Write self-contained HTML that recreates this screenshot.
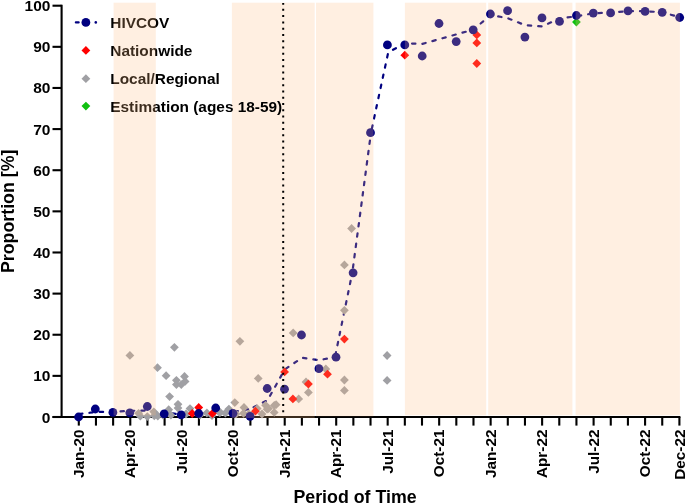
<!DOCTYPE html>
<html><head><meta charset="utf-8"><style>
html,body{margin:0;padding:0;background:#fff;width:685px;height:504px;overflow:hidden;}
svg{display:block;will-change:transform;}
</style></head><body>
<svg width="685" height="504" viewBox="0 0 685 504">
<g stroke="#000" stroke-width="2.1" fill="none">
<path d="M61.6 4.7V418"/>
<path d="M52.5 417H680.4"/>
<path d="M52.5 417.00H61.6"/>
<path d="M52.5 375.87H61.6"/>
<path d="M52.5 334.74H61.6"/>
<path d="M52.5 293.61H61.6"/>
<path d="M52.5 252.48H61.6"/>
<path d="M52.5 211.35H61.6"/>
<path d="M52.5 170.22H61.6"/>
<path d="M52.5 129.09H61.6"/>
<path d="M52.5 87.96H61.6"/>
<path d="M52.5 46.83H61.6"/>
<path d="M52.5 5.70H61.6"/>
<path d="M78.80 417V425.6"/>
<path d="M95.96 417V425.6"/>
<path d="M113.12 417V425.6"/>
<path d="M130.28 417V425.6"/>
<path d="M147.44 417V425.6"/>
<path d="M164.60 417V425.6"/>
<path d="M181.76 417V425.6"/>
<path d="M198.92 417V425.6"/>
<path d="M216.08 417V425.6"/>
<path d="M233.24 417V425.6"/>
<path d="M250.40 417V425.6"/>
<path d="M267.56 417V425.6"/>
<path d="M284.72 417V425.6"/>
<path d="M301.88 417V425.6"/>
<path d="M319.04 417V425.6"/>
<path d="M336.20 417V425.6"/>
<path d="M353.36 417V425.6"/>
<path d="M370.52 417V425.6"/>
<path d="M387.68 417V425.6"/>
<path d="M404.84 417V425.6"/>
<path d="M422.00 417V425.6"/>
<path d="M439.16 417V425.6"/>
<path d="M456.32 417V425.6"/>
<path d="M473.48 417V425.6"/>
<path d="M490.64 417V425.6"/>
<path d="M507.80 417V425.6"/>
<path d="M524.96 417V425.6"/>
<path d="M542.12 417V425.6"/>
<path d="M559.28 417V425.6"/>
<path d="M576.44 417V425.6"/>
<path d="M593.60 417V425.6"/>
<path d="M610.76 417V425.6"/>
<path d="M627.92 417V425.6"/>
<path d="M645.08 417V425.6"/>
<path d="M662.24 417V425.6"/>
<path d="M679.40 417V425.6"/>
</g>
<g font-family="'Liberation Sans', sans-serif" font-weight="bold" font-size="15.5" text-anchor="end" fill="#000">
<text x="50.4" y="422.50">0</text>
<text x="50.4" y="381.37">10</text>
<text x="50.4" y="340.24">20</text>
<text x="50.4" y="299.11">30</text>
<text x="50.4" y="257.98">40</text>
<text x="50.4" y="216.85">50</text>
<text x="50.4" y="175.72">60</text>
<text x="50.4" y="134.59">70</text>
<text x="50.4" y="93.46">80</text>
<text x="50.4" y="52.33">90</text>
<text x="50.4" y="11.20">100</text>
</g>
<g font-family="'Liberation Sans', sans-serif" font-weight="bold" font-size="15.3" text-anchor="end" fill="#000">
<text transform="translate(84.00 429.6) rotate(-90)">Jan-20</text>
<text transform="translate(135.48 429.6) rotate(-90)">Apr-20</text>
<text transform="translate(186.96 429.6) rotate(-90)">Jul-20</text>
<text transform="translate(238.44 429.6) rotate(-90)">Oct-20</text>
<text transform="translate(289.92 429.6) rotate(-90)">Jan-21</text>
<text transform="translate(341.40 429.6) rotate(-90)">Apr-21</text>
<text transform="translate(392.88 429.6) rotate(-90)">Jul-21</text>
<text transform="translate(444.36 429.6) rotate(-90)">Oct-21</text>
<text transform="translate(495.84 429.6) rotate(-90)">Jan-22</text>
<text transform="translate(547.32 429.6) rotate(-90)">Apr-22</text>
<text transform="translate(598.80 429.6) rotate(-90)">Jul-22</text>
<text transform="translate(650.28 429.6) rotate(-90)">Oct-22</text>
<text transform="translate(684.60 429.6) rotate(-90)">Dec-22</text>
</g>
<text font-family="'Liberation Sans', sans-serif" font-weight="bold" font-size="17.8" text-anchor="middle" transform="translate(13.6 211.3) rotate(-90)">Proportion [%]</text>
<text font-family="'Liberation Sans', sans-serif" font-weight="bold" font-size="17.8" text-anchor="middle" x="355" y="502.5">Period of Time</text>
<polyline points="78.80,414.20 95.96,411.90 113.12,411.90 130.28,410.80 147.44,410.50 164.60,412.60 181.76,414.50 198.92,413.50 216.08,412.00 233.24,411.80 250.40,408.90" fill="none" stroke="#000080" stroke-width="2.2" stroke-linecap="round" stroke-linejoin="round" stroke-dasharray="3.4 7" stroke-dashoffset="10.10"/>
<polyline points="250.40,408.90 267.56,400.20 284.72,369.50 301.88,357.80 319.04,360.20 335.00,357.00" fill="none" stroke="#000080" stroke-width="2.2" stroke-linecap="round" stroke-linejoin="round" stroke-dasharray="3.4 7" stroke-dashoffset="6.86"/>
<polyline points="335.00,357.00 352.30,272.70" fill="none" stroke="#000080" stroke-width="2.2" stroke-linecap="round" stroke-linejoin="round" stroke-dasharray="3.4 7" stroke-dashoffset="8.82"/>
<polyline points="352.30,272.70 371.00,132.50" fill="none" stroke="#000080" stroke-width="2.2" stroke-linecap="round" stroke-linejoin="round" stroke-dasharray="3.4 7" stroke-dashoffset="5.30"/>
<polyline points="371.00,132.50 388.20,52.50" fill="none" stroke="#000080" stroke-width="2.2" stroke-linecap="round" stroke-linejoin="round" stroke-dasharray="3.4 7" stroke-dashoffset="6.50"/>
<polyline points="388.20,52.50 404.84,43.20 422.00,44.00 439.16,39.20 456.32,34.40 473.48,29.60 490.64,15.00 507.80,18.20 524.96,25.20 542.12,26.40 559.28,18.50 576.44,16.30 593.60,13.30 610.76,12.40 627.92,11.20 645.08,11.20 662.24,12.30 679.40,17.20" fill="none" stroke="#000080" stroke-width="2.2" stroke-linecap="round" stroke-linejoin="round" stroke-dasharray="3.4 7" stroke-dashoffset="4.93"/>
<path d="M129.90 351.00L134.30 355.40L129.90 359.80L125.50 355.40Z" fill="#a0a0a4"/>
<path d="M157.50 363.30L161.90 367.70L157.50 372.10L153.10 367.70Z" fill="#a0a0a4"/>
<path d="M166.10 371.30L170.50 375.70L166.10 380.10L161.70 375.70Z" fill="#a0a0a4"/>
<path d="M174.40 342.90L178.80 347.30L174.40 351.70L170.00 347.30Z" fill="#a0a0a4"/>
<path d="M176.40 375.90L180.80 380.30L176.40 384.70L172.00 380.30Z" fill="#a0a0a4"/>
<path d="M184.50 372.10L188.90 376.50L184.50 380.90L180.10 376.50Z" fill="#a0a0a4"/>
<path d="M185.10 377.00L189.50 381.40L185.10 385.80L180.70 381.40Z" fill="#a0a0a4"/>
<path d="M176.40 380.20L180.80 384.60L176.40 389.00L172.00 384.60Z" fill="#a0a0a4"/>
<path d="M181.30 380.20L185.70 384.60L181.30 389.00L176.90 384.60Z" fill="#a0a0a4"/>
<path d="M169.60 392.20L174.00 396.60L169.60 401.00L165.20 396.60Z" fill="#a0a0a4"/>
<path d="M178.00 399.90L182.40 404.30L178.00 408.70L173.60 404.30Z" fill="#a0a0a4"/>
<path d="M178.00 403.70L182.40 408.10L178.00 412.50L173.60 408.10Z" fill="#a0a0a4"/>
<path d="M168.70 405.30L173.10 409.70L168.70 414.10L164.30 409.70Z" fill="#a0a0a4"/>
<path d="M170.90 410.80L175.30 415.20L170.90 419.60L166.50 415.20Z" fill="#a0a0a4"/>
<path d="M190.00 404.20L194.40 408.60L190.00 413.00L185.60 408.60Z" fill="#a0a0a4"/>
<path d="M206.90 408.60L211.30 413.00L206.90 417.40L202.50 413.00Z" fill="#a0a0a4"/>
<path d="M138.60 408.90L143.00 413.30L138.60 417.70L134.20 413.30Z" fill="#a0a0a4"/>
<path d="M140.30 411.80L144.70 416.20L140.30 420.60L135.90 416.20Z" fill="#a0a0a4"/>
<path d="M147.30 412.20L151.70 416.60L147.30 421.00L142.90 416.60Z" fill="#a0a0a4"/>
<path d="M153.80 407.40L158.20 411.80L153.80 416.20L149.40 411.80Z" fill="#a0a0a4"/>
<path d="M154.30 411.40L158.70 415.80L154.30 420.20L149.90 415.80Z" fill="#a0a0a4"/>
<path d="M157.80 411.60L162.20 416.00L157.80 420.40L153.40 416.00Z" fill="#a0a0a4"/>
<path d="M219.50 408.20L223.90 412.60L219.50 417.00L215.10 412.60Z" fill="#a0a0a4"/>
<path d="M225.40 408.80L229.80 413.20L225.40 417.60L221.00 413.20Z" fill="#a0a0a4"/>
<path d="M228.90 404.70L233.30 409.10L228.90 413.50L224.50 409.10Z" fill="#a0a0a4"/>
<path d="M220.30 408.00L224.70 412.40L220.30 416.80L215.90 412.40Z" fill="#a0a0a4"/>
<path d="M228.60 405.80L233.00 410.20L228.60 414.60L224.20 410.20Z" fill="#a0a0a4"/>
<path d="M234.80 398.20L239.20 402.60L234.80 407.00L230.40 402.60Z" fill="#a0a0a4"/>
<path d="M244.00 403.10L248.40 407.50L244.00 411.90L239.60 407.50Z" fill="#a0a0a4"/>
<path d="M243.50 408.90L247.90 413.30L243.50 417.70L239.10 413.30Z" fill="#a0a0a4"/>
<path d="M258.20 374.00L262.60 378.40L258.20 382.80L253.80 378.40Z" fill="#a0a0a4"/>
<path d="M239.90 336.90L244.30 341.30L239.90 345.70L235.50 341.30Z" fill="#a0a0a4"/>
<path d="M257.20 404.20L261.60 408.60L257.20 413.00L252.80 408.60Z" fill="#a0a0a4"/>
<path d="M265.60 400.90L270.00 405.30L265.60 409.70L261.20 405.30Z" fill="#a0a0a4"/>
<path d="M268.50 404.20L272.90 408.60L268.50 413.00L264.10 408.60Z" fill="#a0a0a4"/>
<path d="M274.30 401.00L278.70 405.40L274.30 409.80L269.90 405.40Z" fill="#a0a0a4"/>
<path d="M276.10 400.30L280.50 404.70L276.10 409.10L271.70 404.70Z" fill="#a0a0a4"/>
<path d="M267.10 404.80L271.50 409.20L267.10 413.60L262.70 409.20Z" fill="#a0a0a4"/>
<path d="M274.20 408.00L278.60 412.40L274.20 416.80L269.80 412.40Z" fill="#a0a0a4"/>
<path d="M293.20 328.50L297.60 332.90L293.20 337.30L288.80 332.90Z" fill="#a0a0a4"/>
<path d="M308.40 388.00L312.80 392.40L308.40 396.80L304.00 392.40Z" fill="#a0a0a4"/>
<path d="M298.70 394.50L303.10 398.90L298.70 403.30L294.30 398.90Z" fill="#a0a0a4"/>
<path d="M306.00 377.60L310.40 382.00L306.00 386.40L301.60 382.00Z" fill="#a0a0a4"/>
<path d="M325.80 364.60L330.20 369.00L325.80 373.40L321.40 369.00Z" fill="#a0a0a4"/>
<path d="M344.40 375.60L348.80 380.00L344.40 384.40L340.00 380.00Z" fill="#a0a0a4"/>
<path d="M344.40 386.00L348.80 390.40L344.40 394.80L340.00 390.40Z" fill="#a0a0a4"/>
<path d="M344.40 305.90L348.80 310.30L344.40 314.70L340.00 310.30Z" fill="#a0a0a4"/>
<path d="M344.40 260.50L348.80 264.90L344.40 269.30L340.00 264.90Z" fill="#a0a0a4"/>
<path d="M351.60 224.10L356.00 228.50L351.60 232.90L347.20 228.50Z" fill="#a0a0a4"/>
<path d="M387.10 351.10L391.50 355.50L387.10 359.90L382.70 355.50Z" fill="#a0a0a4"/>
<path d="M387.10 376.00L391.50 380.40L387.10 384.80L382.70 380.40Z" fill="#a0a0a4"/>
<path d="M186.00 409.60L190.40 414.00L186.00 418.40L181.60 414.00Z" fill="#a0a0a4"/>
<path d="M163.00 410.60L167.40 415.00L163.00 419.40L158.60 415.00Z" fill="#a0a0a4"/>
<path d="M200.00 410.60L204.40 415.00L200.00 419.40L195.60 415.00Z" fill="#a0a0a4"/>
<path d="M212.00 411.10L216.40 415.50L212.00 419.90L207.60 415.50Z" fill="#a0a0a4"/>
<path d="M249.00 409.60L253.40 414.00L249.00 418.40L244.60 414.00Z" fill="#a0a0a4"/>
<path d="M262.00 409.60L266.40 414.00L262.00 418.40L257.60 414.00Z" fill="#a0a0a4"/>
<path d="M236.00 409.60L240.40 414.00L236.00 418.40L231.60 414.00Z" fill="#a0a0a4"/>
<path d="M198.70 403.10L203.10 407.50L198.70 411.90L194.30 407.50Z" fill="#ff0000"/>
<path d="M192.20 409.10L196.60 413.50L192.20 417.90L187.80 413.50Z" fill="#ff0000"/>
<path d="M212.40 409.10L216.80 413.50L212.40 417.90L208.00 413.50Z" fill="#ff0000"/>
<path d="M255.40 406.80L259.80 411.20L255.40 415.60L251.00 411.20Z" fill="#ff0000"/>
<path d="M284.60 367.50L289.00 371.90L284.60 376.30L280.20 371.90Z" fill="#ff0000"/>
<path d="M308.40 379.60L312.80 384.00L308.40 388.40L304.00 384.00Z" fill="#ff0000"/>
<path d="M292.90 394.50L297.30 398.90L292.90 403.30L288.50 398.90Z" fill="#ff0000"/>
<path d="M327.50 369.80L331.90 374.20L327.50 378.60L323.10 374.20Z" fill="#ff0000"/>
<path d="M344.40 334.70L348.80 339.10L344.40 343.50L340.00 339.10Z" fill="#ff0000"/>
<path d="M404.80 50.80L409.20 55.20L404.80 59.60L400.40 55.20Z" fill="#ff0000"/>
<path d="M476.80 30.50L481.20 34.90L476.80 39.30L472.40 34.90Z" fill="#ff0000"/>
<path d="M476.80 38.50L481.20 42.90L476.80 47.30L472.40 42.90Z" fill="#ff0000"/>
<path d="M476.80 59.10L481.20 63.50L476.80 67.90L472.40 63.50Z" fill="#ff0000"/>
<path d="M576.40 17.60L580.80 22.00L576.40 26.40L572.00 22.00Z" fill="#10c010"/>
<circle cx="78.6" cy="417.0" r="4.4" fill="#000080"/>
<circle cx="95.3" cy="409.0" r="4.4" fill="#000080"/>
<circle cx="112.9" cy="412.4" r="4.4" fill="#000080"/>
<circle cx="129.8" cy="412.8" r="4.4" fill="#000080"/>
<circle cx="147.3" cy="406.5" r="4.4" fill="#000080"/>
<circle cx="164.2" cy="413.8" r="4.4" fill="#000080"/>
<circle cx="181.2" cy="414.8" r="4.4" fill="#000080"/>
<circle cx="198.7" cy="413.5" r="4.4" fill="#000080"/>
<circle cx="215.7" cy="408.0" r="4.4" fill="#000080"/>
<circle cx="233.0" cy="413.3" r="4.4" fill="#000080"/>
<circle cx="250.1" cy="416.3" r="4.4" fill="#000080"/>
<circle cx="267.2" cy="388.5" r="4.4" fill="#000080"/>
<circle cx="284.5" cy="389.2" r="4.4" fill="#000080"/>
<circle cx="301.5" cy="335.0" r="4.4" fill="#000080"/>
<circle cx="318.9" cy="368.7" r="4.4" fill="#000080"/>
<circle cx="336.0" cy="357.2" r="4.4" fill="#000080"/>
<circle cx="353.1" cy="272.8" r="4.4" fill="#000080"/>
<circle cx="370.5" cy="132.7" r="4.4" fill="#000080"/>
<circle cx="387.4" cy="44.9" r="4.4" fill="#000080"/>
<circle cx="404.8" cy="44.9" r="4.4" fill="#000080"/>
<circle cx="422.2" cy="56.0" r="4.4" fill="#000080"/>
<circle cx="439.0" cy="23.5" r="4.4" fill="#000080"/>
<circle cx="456.2" cy="41.6" r="4.4" fill="#000080"/>
<circle cx="473.2" cy="29.8" r="4.4" fill="#000080"/>
<circle cx="490.4" cy="14.0" r="4.4" fill="#000080"/>
<circle cx="507.6" cy="10.7" r="4.4" fill="#000080"/>
<circle cx="524.9" cy="37.1" r="4.4" fill="#000080"/>
<circle cx="542.0" cy="17.9" r="4.4" fill="#000080"/>
<circle cx="559.5" cy="21.4" r="4.4" fill="#000080"/>
<circle cx="576.4" cy="15.5" r="4.4" fill="#000080"/>
<circle cx="593.3" cy="13.1" r="4.4" fill="#000080"/>
<circle cx="610.6" cy="12.9" r="4.4" fill="#000080"/>
<circle cx="628.0" cy="10.8" r="4.4" fill="#000080"/>
<circle cx="645.1" cy="11.4" r="4.4" fill="#000080"/>
<circle cx="662.2" cy="12.3" r="4.4" fill="#000080"/>
<circle cx="679.7" cy="17.5" r="4.4" fill="#000080"/>
<rect x="231.9" y="2.7" width="82.8" height="415.3" fill="rgba(255,187,128,0.235)"/>
<rect x="316.0" y="2.7" width="57.4" height="413.6" fill="rgba(255,187,128,0.235)"/>
<rect x="404.9" y="2.7" width="81.3" height="412.6" fill="rgba(255,187,128,0.235)"/>
<rect x="488.2" y="2.7" width="84.2" height="412.6" fill="rgba(255,187,128,0.235)"/>
<rect x="575.6" y="2.7" width="104.3" height="412.6" fill="rgba(255,187,128,0.235)"/>
<path d="M282.2 3.1h2v1.6h-2zM282.2 8.85h2v2h-2zM282.2 15.12h2v2h-2zM282.2 21.40h2v2h-2zM282.2 27.67h2v2h-2zM282.2 33.94h2v2h-2zM282.2 40.21h2v2h-2zM282.2 46.49h2v2h-2zM282.2 52.76h2v2h-2zM282.2 59.03h2v2h-2zM282.2 65.31h2v2h-2zM282.2 71.58h2v2h-2zM282.2 77.85h2v2h-2zM282.2 84.13h2v2h-2zM282.2 90.40h2v2h-2zM282.2 96.67h2v2h-2zM282.2 102.94h2v2h-2zM282.2 109.22h2v2h-2zM282.2 115.49h2v2h-2zM282.2 121.76h2v2h-2zM282.2 128.04h2v2h-2zM282.2 134.31h2v2h-2zM282.2 140.58h2v2h-2zM282.2 146.86h2v2h-2zM282.2 153.13h2v2h-2zM282.2 159.40h2v2h-2zM282.2 165.67h2v2h-2zM282.2 171.95h2v2h-2zM282.2 178.22h2v2h-2zM282.2 184.49h2v2h-2zM282.2 190.77h2v2h-2zM282.2 197.04h2v2h-2zM282.2 203.31h2v2h-2zM282.2 209.59h2v2h-2zM282.2 215.86h2v2h-2zM282.2 222.13h2v2h-2zM282.2 228.40h2v2h-2zM282.2 234.68h2v2h-2zM282.2 240.95h2v2h-2zM282.2 247.22h2v2h-2zM282.2 253.50h2v2h-2zM282.2 259.77h2v2h-2zM282.2 266.04h2v2h-2zM282.2 272.32h2v2h-2zM282.2 278.59h2v2h-2zM282.2 284.86h2v2h-2zM282.2 291.13h2v2h-2zM282.2 297.41h2v2h-2zM282.2 303.68h2v2h-2zM282.2 309.95h2v2h-2zM282.2 316.23h2v2h-2zM282.2 322.50h2v2h-2zM282.2 328.77h2v2h-2zM282.2 335.05h2v2h-2zM282.2 341.32h2v2h-2zM282.2 347.59h2v2h-2zM282.2 353.87h2v2h-2zM282.2 360.14h2v2h-2zM282.2 366.41h2v2h-2zM282.2 372.68h2v2h-2zM282.2 378.96h2v2h-2zM282.2 385.23h2v2h-2zM282.2 391.50h2v2h-2zM282.2 397.78h2v2h-2zM282.2 404.05h2v2h-2zM282.2 410.32h2v2h-2z" fill="#000"/>
<g font-family="'Liberation Sans', sans-serif" font-weight="bold" font-size="15.4" fill="#000">
<text x="110.3" y="28.2">HIVCOV</text>
<text x="110.3" y="56.1">Nationwide</text>
<text x="110.3" y="83.9">Local/Regional</text>
<text x="110.3" y="111.6">Estimation (ages 18-59)</text>
</g>
<path d="M75.9 22.4H78.6" stroke="#000080" stroke-width="2.3" stroke-linecap="round"/>
<circle cx="85.9" cy="22.4" r="4.4" fill="#000080"/>
<circle cx="95.8" cy="22.4" r="1.3" fill="#000080"/>
<path d="M85.90 46.00L90.30 50.40L85.90 54.80L81.50 50.40Z" fill="#ff0000"/>
<path d="M85.90 74.30L90.30 78.70L85.90 83.10L81.50 78.70Z" fill="#a0a0a4"/>
<path d="M85.90 101.70L90.30 106.10L85.90 110.50L81.50 106.10Z" fill="#10c010"/>
<rect x="113.6" y="2.7" width="42.2" height="412.7" fill="rgba(255,187,128,0.235)"/>
</svg>
</body></html>
